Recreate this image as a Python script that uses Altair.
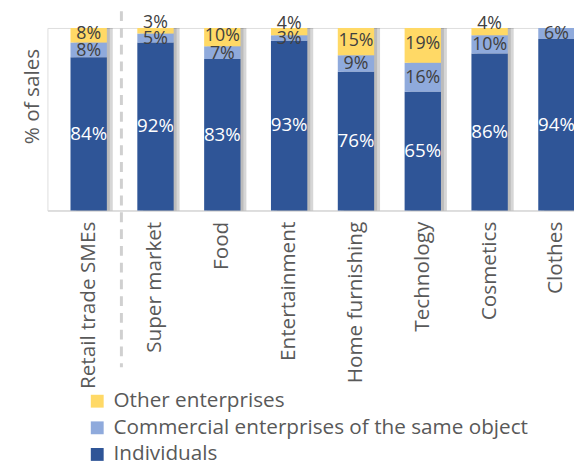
import altair as alt
import pandas as pd

categories = ["Retail trade SMEs", "Super market", "Food", "Entertainment",
              "Home furnishing", "Technology", "Cosmetics", "Clothes"]
individuals = [84, 92, 83, 93, 76, 65, 86, 94]
commercial = [8, 5, 7, 3, 9, 16, 10, 6]
other = [8, 3, 10, 4, 15, 19, 4, 0]

series_names = ["Individuals", "Commercial enterprises of the same object", "Other enterprises"]
series_values = [individuals, commercial, other]
colors = ["#2F5597", "#8FAADC", "#FFD966"]

rows = []
for si, (name, vals) in enumerate(zip(series_names, series_values)):
    for c, v in zip(categories, vals):
        rows.append({"category": c, "series": name, "value": v, "order": si})
df = pd.DataFrame(rows)

FONT = "Open Sans"
GRAY = "#595959"

x_enc = alt.X("category:N", sort=categories,
              scale=alt.Scale(range=[0, 558], paddingInner=0.456, paddingOuter=0.345),
              axis=alt.Axis(title=None, labelAngle=-90, labelAlign="right", labelBaseline="middle",
                            labelFontSize=21, labelColor=GRAY, labelFont=FONT, labelPadding=11,
                            ticks=False, domainColor="#D9D9D9", domainWidth=1.5, labelLimit=400))
y_scale = alt.Scale(domain=[0, 100], nice=False)

base = alt.Chart(df).transform_stack(
    stack="value", groupby=["category"], sort=[alt.SortField("order", order="ascending")],
    as_=["y0", "y1"]
).transform_calculate(
    mid="(datum.y0 + datum.y1) / 2", label="datum.value + '%'"
)

shadow = alt.Chart(df).transform_aggregate(
    total="sum(value)", groupby=["category"]
).mark_bar(color="#000000", opacity=0.16, xOffset=6).encode(
    x=x_enc,
    y=alt.Y("total:Q", scale=y_scale),
    y2=alt.datum(0),
)
shadow2 = alt.Chart(df).transform_aggregate(
    total="sum(value)", groupby=["category"]
).mark_bar(color="#000000", opacity=0.12, xOffset=3).encode(
    x=x_enc,
    y=alt.Y("total:Q", scale=y_scale),
    y2=alt.datum(0),
)

bars = base.mark_bar().encode(
    x=x_enc,
    y=alt.Y("y0:Q", scale=y_scale,
            axis=alt.Axis(title="% of sales", labels=False, ticks=False, domain=False, grid=False,
                          titleFontSize=21, titleColor=GRAY, titleFont=FONT, titleFontWeight="normal",
                          titleX=-5, titleY=69, titleBaseline="bottom", titleAngle=-90)),
    y2="y1:Q",
    color=alt.Color("series:N",
                    scale=alt.Scale(domain=series_names[::-1], range=colors[::-1]),
                    legend=alt.Legend(title=None, orient="none", legendX=40, legendY=368,
                                      labelFontSize=21, labelColor=GRAY, labelFont=FONT,
                                      symbolType="square", symbolSize=170, symbolStrokeWidth=0,
                                      rowPadding=5, labelOffset=6, padding=0, labelLimit=600)),
)

text_ind = base.transform_filter(alt.datum.order == 0).mark_text(
    font=FONT, fontSize=19, color="#FFFFFF").encode(
    x=x_enc, y=alt.Y("mid:Q", scale=y_scale), text="label:N")
text_com = base.transform_filter(alt.datum.order == 1).mark_text(
    font=FONT, fontSize=18, color="#404040", dy=1).encode(
    x=x_enc, y=alt.Y("mid:Q", scale=y_scale), text="label:N")
text_oth = base.transform_filter((alt.datum.order == 2) & (alt.datum.value >= 5)).mark_text(
    font=FONT, fontSize=18, color="#404040", dy=-1).encode(
    x=x_enc, y=alt.Y("mid:Q", scale=y_scale), text="label:N")
text_oth_small = base.transform_filter((alt.datum.order == 2) & (alt.datum.value > 0) & (alt.datum.value < 5)).mark_text(
    font=FONT, fontSize=18, color="#404040", dy=-8).encode(
    x=x_enc, y=alt.Y("mid:Q", scale=y_scale), text="label:N")

sep = alt.Chart(pd.DataFrame({"a": [0]})).mark_rule(
    color="#D0D0D0", strokeWidth=3, strokeDash=[10, 7]).encode(
    x=alt.value(75), y=alt.value(-17), y2=alt.value(344))

chart = alt.layer(shadow, shadow2, bars, text_ind, text_com, text_oth, text_oth_small, sep).properties(
    width=534, height=185,
    autosize=alt.AutoSizeParams(type="none"),
    padding={"left": 40, "top": 17, "right": 0, "bottom": 259},
).configure_view(stroke=None).configure(font=FONT)

chart.save("out.html", embed_options={"renderer": "svg", "actions": False})
